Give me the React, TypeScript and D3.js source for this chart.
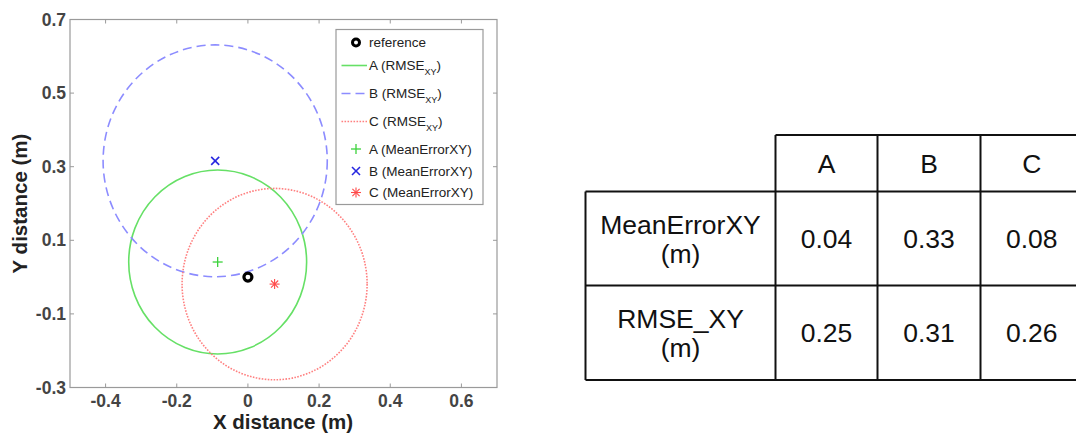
import React from "react";
import * as d3 from "d3";

// ---- data ----
const seriesNames = ["A", "B", "C"];
const meanErrorX = [-0.085, -0.092, 0.075];
const meanErrorY = [0.041, 0.316, -0.019];
const rmseRadius = [0.25, 0.315, 0.26];
const referencePoint = [0, 0];
const xTicks = [-0.4, -0.2, 0, 0.2, 0.4, 0.6];
const yTicks = [-0.3, -0.1, 0.1, 0.3, 0.5, 0.7];
const tableRowLabels = [["MeanErrorXY", "(m)"], ["RMSE_XY", "(m)"]];
const tableMeanError = ["0.04", "0.33", "0.08"];
const tableRmse = ["0.25", "0.31", "0.26"];

const lineColors = ["#66e066", "#8c8cff", "#ff8080"];
const markerColors = ["#3cd23c", "#2828e0", "#ff4a4a"];
const dashes = [undefined, "9,5", "1.6,1.4"];

const FONT = "Arial, 'Liberation Sans', Helvetica, sans-serif";
const fmt = (t: number) => (t === 0 ? "0" : d3.format(".1f")(t).replace("\u2212", "-"));

export default function App() {
  const L = 70, R = 497, T = 19.5, B = 387.5;
  const x = d3.scaleLinear().domain([-0.5, 0.7]).range([L, R]);
  const y = d3.scaleLinear().domain([-0.3, 0.7]).range([B, T]);
  const axisGray = "#9a9a9a";
  const tickLen = 4;

  const marker = (kind: number, cx: number, cy: number, col: string, key?: string) => {
    if (kind === 0) {
      const s = 5;
      return (
        <g key={key} stroke={col} strokeWidth={1.3}>
          <line x1={cx - s} x2={cx + s} y1={cy} y2={cy} />
          <line x1={cx} x2={cx} y1={cy - s} y2={cy + s} />
        </g>
      );
    }
    if (kind === 1) {
      const s = 4;
      return (
        <g key={key} stroke={col} strokeWidth={1.6}>
          <line x1={cx - s} x2={cx + s} y1={cy - s} y2={cy + s} />
          <line x1={cx - s} x2={cx + s} y1={cy + s} y2={cy - s} />
        </g>
      );
    }
    const s = 5;
    const d = s * 0.72;
    return (
      <g key={key} stroke={col} strokeWidth={1.1}>
        <line x1={cx - s} x2={cx + s} y1={cy} y2={cy} />
        <line x1={cx} x2={cx} y1={cy - s} y2={cy + s} />
        <line x1={cx - d} x2={cx + d} y1={cy - d} y2={cy + d} />
        <line x1={cx - d} x2={cx + d} y1={cy + d} y2={cy - d} />
      </g>
    );
  };

  // legend
  const lgX = 336, lgY = 29.5, lgW = 147, lgH = 175;
  const lineRows = [65.5, 93.5, 121.5];
  const markRows = [149, 171, 192.5];
  const textX = 369;

  // table
  const colEdges = [585.5, 775.5, 877.5, 980.5, 1083];
  const rowEdges = [135, 191.5, 285.5, 380];
  const cellFont = 26.5;

  return (
    <svg
      width={1076}
      height={433}
      style={{ position: "absolute", left: 0, top: 0, background: "#fff" }}
      fontFamily={FONT}
    >
      <rect x={0} y={0} width={1076} height={433} fill="#fff" />
      {/* plot box */}
      <rect x={L} y={T} width={R - L} height={B - T} fill="none" stroke={axisGray} strokeWidth={1.2} />
      {xTicks.map((t) => (
        <g key={"xt" + t}>
          <line x1={x(t)} x2={x(t)} y1={B} y2={B - tickLen} stroke={axisGray} />
          <line x1={x(t)} x2={x(t)} y1={T} y2={T + tickLen} stroke={axisGray} />
          <text x={x(t)} y={407} textAnchor="middle" fontSize={17.5} fontWeight="bold" fill="#444">
            {fmt(t)}
          </text>
        </g>
      ))}
      {yTicks.map((t) => (
        <g key={"yt" + t}>
          <line x1={L} x2={L + tickLen} y1={y(t)} y2={y(t)} stroke={axisGray} />
          <line x1={R} x2={R - tickLen} y1={y(t)} y2={y(t)} stroke={axisGray} />
          <text x={66} y={y(t) + 6} textAnchor="end" fontSize={17.5} fontWeight="bold" fill="#444">
            {fmt(t)}
          </text>
        </g>
      ))}
      <text x={283} y={429} textAnchor="middle" fontSize={20.5} fontWeight="bold" fill="#222">
        X distance (m)
      </text>
      <text
        transform={`translate(27,${(T + B) / 2}) rotate(-90)`}
        textAnchor="middle"
        fontSize={20.5}
        fontWeight="bold"
        fill="#222"
      >
        Y distance (m)
      </text>

      {/* circles */}
      {seriesNames.map((n, i) => (
        <ellipse
          key={"c" + n}
          cx={x(meanErrorX[i])}
          cy={y(meanErrorY[i])}
          rx={x(rmseRadius[i]) - x(0)}
          ry={y(0) - y(rmseRadius[i])}
          fill="none"
          stroke={lineColors[i]}
          strokeWidth={1.6}
          strokeDasharray={dashes[i]}
        />
      ))}
      {/* reference */}
      <circle cx={x(referencePoint[0])} cy={y(referencePoint[1])} r={4} fill="#fff" stroke="#000" strokeWidth={3.2} />
      {/* mean error markers */}
      {seriesNames.map((n, i) => marker(i, x(meanErrorX[i]), y(meanErrorY[i]), markerColors[i], "m" + n))}

      {/* legend */}
      <rect x={lgX} y={lgY} width={lgW} height={lgH} fill="#fff" stroke={axisGray} strokeWidth={1.2} />
      <circle cx={356} cy={42.5} r={3.5} fill="#fff" stroke="#000" strokeWidth={3} />
      <text x={textX} y={47} fontSize={13.5} fill="#222">reference</text>
      {seriesNames.map((n, i) => (
        <g key={"ll" + n}>
          <line
            x1={341.5}
            x2={367}
            y1={lineRows[i]}
            y2={lineRows[i]}
            stroke={lineColors[i]}
            strokeWidth={1.6}
            strokeDasharray={dashes[i]}
          />
          <text x={textX} y={lineRows[i] + 4.5} fontSize={13.5} fill="#222">
            {n} (RMSE
            <tspan fontSize={9} dy={5}>XY</tspan>
            <tspan dy={-5}>)</tspan>
          </text>
        </g>
      ))}
      {seriesNames.map((n, i) => (
        <g key={"lm" + n}>
          {marker(i, 356, markRows[i], markerColors[i])}
          <text x={textX} y={markRows[i] + 4.5} fontSize={13.5} fill="#222">
            {n} (MeanErrorXY)
          </text>
        </g>
      ))}

      {/* table */}
      <g stroke="#111" strokeWidth={2} fill="none">
        <line x1={colEdges[1]} x2={colEdges[4]} y1={rowEdges[0]} y2={rowEdges[0]} />
        <line x1={colEdges[0]} x2={colEdges[4]} y1={rowEdges[1]} y2={rowEdges[1]} />
        <line x1={colEdges[0]} x2={colEdges[4]} y1={rowEdges[2]} y2={rowEdges[2]} />
        <line x1={colEdges[0]} x2={colEdges[4]} y1={rowEdges[3]} y2={rowEdges[3]} />
        <line x1={colEdges[0]} x2={colEdges[0]} y1={rowEdges[1]} y2={rowEdges[3]} />
        {[1, 2, 3, 4].map((c) => (
          <line key={"vc" + c} x1={colEdges[c]} x2={colEdges[c]} y1={rowEdges[0]} y2={rowEdges[3]} />
        ))}
      </g>
      {seriesNames.map((n, i) => {
        const cx = (colEdges[i + 1] + colEdges[i + 2]) / 2;
        return (
          <g key={"tc" + n} fontSize={cellFont} fill="#111" textAnchor="middle">
            <text x={cx} y={(rowEdges[0] + rowEdges[1]) / 2 + 9.5}>{n}</text>
            <text x={cx} y={(rowEdges[1] + rowEdges[2]) / 2 + 9.5}>{tableMeanError[i]}</text>
            <text x={cx} y={(rowEdges[2] + rowEdges[3]) / 2 + 9.5}>{tableRmse[i]}</text>
          </g>
        );
      })}
      {tableRowLabels.map((lines, r) => {
        const cx = (colEdges[0] + colEdges[1]) / 2;
        const cy = (rowEdges[r + 1] + rowEdges[r + 2]) / 2;
        return (
          <g key={"rl" + r} fontSize={cellFont} fill="#111" textAnchor="middle">
            <text x={cx} y={cy - 5}>{lines[0]}</text>
            <text x={cx} y={cy + 24}>{lines[1]}</text>
          </g>
        );
      })}
    </svg>
  );
}
